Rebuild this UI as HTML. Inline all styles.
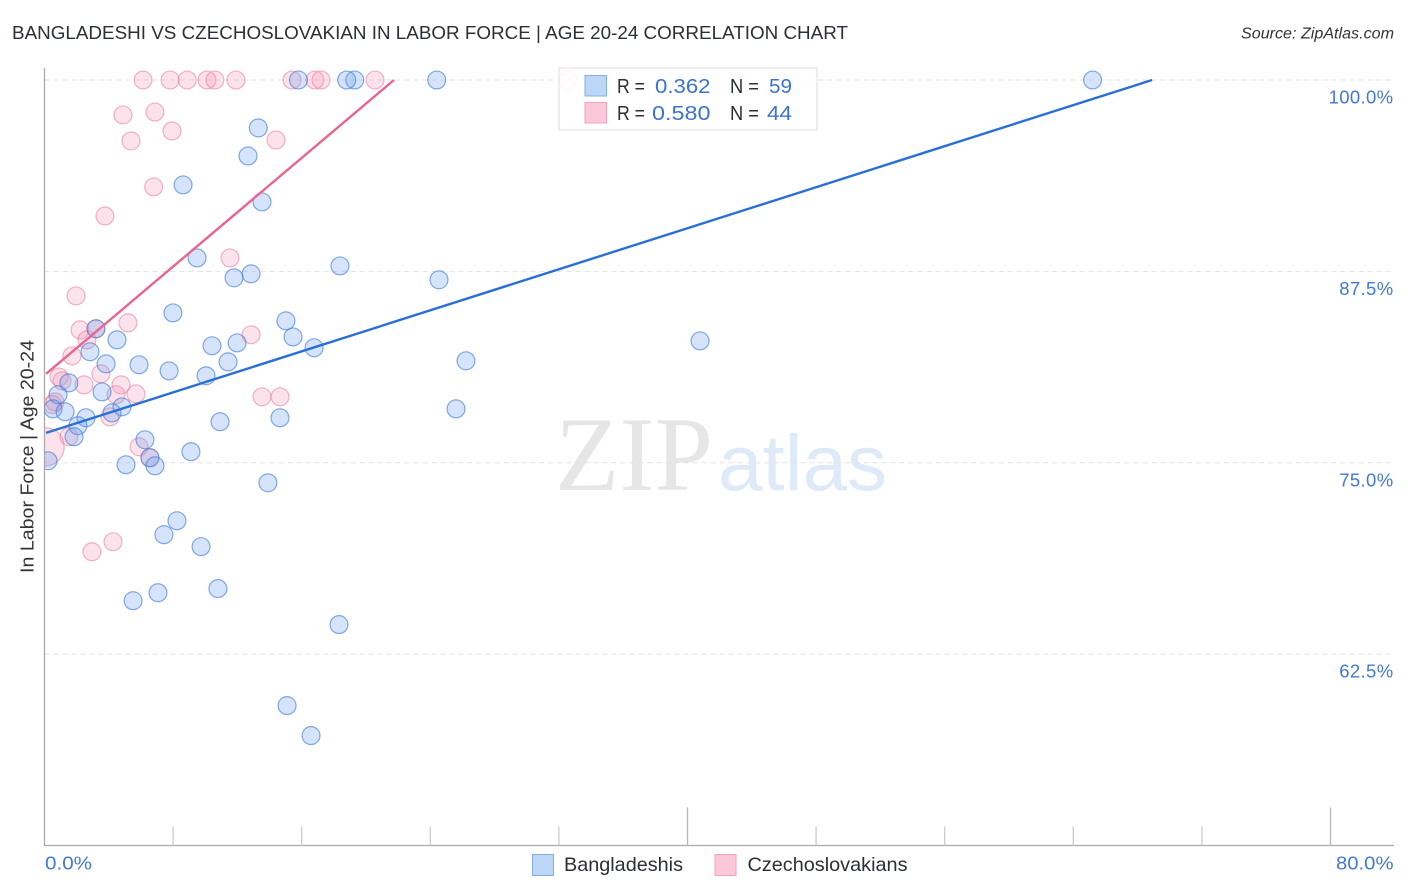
<!DOCTYPE html>
<html lang="en">
<head>
<meta charset="utf-8">
<title>Bangladeshi vs Czechoslovakian in Labor Force | Age 20-24 Correlation Chart</title>
<style>
html,body{margin:0;padding:0;background:#fff;}
svg{display:block;font-family:"Liberation Sans",sans-serif;}
</style>
</head>
<body>
<svg id="chart" xmlns="http://www.w3.org/2000/svg" width="1406" height="892" viewBox="0 0 1406 892">
  <defs>
    <clipPath id="plot-clip"><rect x="44.5" y="60" width="1350" height="786"/></clipPath>
  </defs>
  <rect x="0" y="0" width="1406" height="892" fill="#fff"/>
  <text x="12" y="39" font-size="18.5" fill="#2b2f36" textLength="836" lengthAdjust="spacingAndGlyphs">BANGLADESHI VS CZECHOSLOVAKIAN IN LABOR FORCE | AGE 20-24 CORRELATION CHART</text>
  <text x="1394" y="38.5" font-size="15.5" font-style="italic" fill="#333" text-anchor="end" textLength="153" lengthAdjust="spacingAndGlyphs">Source: ZipAtlas.com</text>

  <g>
    <text x="555" y="490" font-family="'Liberation Serif',serif" font-size="106" fill="#e6e6e6" textLength="158" lengthAdjust="spacingAndGlyphs">ZIP</text>
    <text x="718" y="490" font-size="79" fill="#dfeaf9" textLength="169" lengthAdjust="spacingAndGlyphs">atlas</text>
  </g>

  <g id="grid"></g>
  <g id="axes"></g>
  <g id="points" clip-path="url(#plot-clip)"></g>
  <g id="trends" clip-path="url(#plot-clip)"></g>

  <text transform="translate(33.5,456.5) rotate(-90)" font-size="18.5" fill="#333" text-anchor="middle" textLength="233" lengthAdjust="spacingAndGlyphs">In Labor Force | Age 20-24</text>

  <g>
    <rect x="559" y="68" width="258" height="62" fill="#fff" fill-opacity="0.88" stroke="#dcdcdc" stroke-width="1"/>
    <rect x="585" y="75.5" width="21.5" height="20.5" fill="#bcd6f8" stroke="#86aee3" stroke-width="1"/>
    <rect x="585" y="102.5" width="21.5" height="20.5" fill="#fcc8d9" stroke="#efa3bb" stroke-width="1"/>
    <g font-size="20">
      <text x="617" y="93" fill="#2b2f36" textLength="28" lengthAdjust="spacingAndGlyphs">R =</text>
      <text x="655" y="93" fill="#3b73cf" textLength="55.5" lengthAdjust="spacingAndGlyphs">0.362</text>
      <text x="730" y="93" fill="#2b2f36" textLength="29" lengthAdjust="spacingAndGlyphs">N =</text>
      <text x="769" y="93" fill="#3b73cf" textLength="23" lengthAdjust="spacingAndGlyphs">59</text>
      <text x="617" y="120" fill="#2b2f36" textLength="28" lengthAdjust="spacingAndGlyphs">R =</text>
      <text x="652" y="120" fill="#3b73cf" textLength="58.5" lengthAdjust="spacingAndGlyphs">0.580</text>
      <text x="730" y="120" fill="#2b2f36" textLength="29" lengthAdjust="spacingAndGlyphs">N =</text>
      <text x="767" y="120" fill="#3b73cf" textLength="25" lengthAdjust="spacingAndGlyphs">44</text>
    </g>
  </g>

  <g>
    <g>
      <rect x="532.5" y="854.5" width="21" height="21" fill="#bcd6f8" stroke="#86aee3" stroke-width="1"/>
      <text x="564" y="871" font-size="19.5" fill="#2b2f36" textLength="119" lengthAdjust="spacingAndGlyphs">Bangladeshis</text>
    </g>
    <g>
      <rect x="715" y="854.5" width="21" height="21" fill="#fcc8d9" stroke="#efa3bb" stroke-width="1"/>
      <text x="747.5" y="871" font-size="19.5" fill="#2b2f36" textLength="160" lengthAdjust="spacingAndGlyphs">Czechoslovakians</text>
    </g>
  </g>
</svg>
<script>
// ---- chart data ----
const yTickValues = [100, 87.5, 75, 62.5];
const yTickLabels = ["100.0%", "87.5%", "75.0%", "62.5%"];
const xTickValues = [8, 16, 24, 32, 40, 48, 56, 64, 72, 80];
const xMajorTicks = [40, 80];
const xEndLabels = ["0.0%", "80.0%"];

const bangladeshiX = [65.2,24.4,19.3,18.8,15.8,13.3,12.66,8.62,13.53,9.49,18.38,12.85,11.79,24.54,7.99,15.02,3.2,15.46,4.51,10.42,11.98,16.77,40.78,2.83,3.83,5.88,11.42,26.22,7.75,10.05,1.52,0.84,3.58,0.53,1.28,4.82,4.2,25.6,14.65,10.92,2.58,2.08,1.84,6.25,9.11,6.56,5.07,6.87,0.22,13.9,8.24,7.43,9.74,10.79,7.06,5.51,18.32,15.09,16.58];
const bangladeshiY = [100,100,100,100,100,96.87,95.04,93.15,92.04,88.38,87.86,87.34,87.08,86.95,84.79,84.27,83.75,83.22,83.03,82.64,82.83,82.51,82.96,82.25,81.46,81.4,81.59,81.66,81.0,80.68,80.22,79.44,79.63,78.52,78.33,78.65,78.26,78.52,77.94,77.68,77.94,77.42,76.7,76.5,75.72,75.33,74.87,74.8,75.13,73.69,71.21,70.3,69.52,66.78,66.51,65.99,64.43,59.14,57.18];

const czechX = [6.13,7.81,8.88,10.11,10.6,11.91,15.4,16.82,17.2,20.56,32.56,4.88,6.87,7.93,5.38,14.4,6.79,3.76,11.54,1.96,5.19,2.21,12.85,2.64,3.2,1.71,3.51,0.9,1.09,2.46,4.76,4.45,5.69,13.53,14.65,0.65,0.5,4.07,1.52,5.88,6.56,0.03,4.26,2.95];
const czechY = [100,100,100,100,100,100,100,100,100,100,100,97.72,97.91,96.67,96.02,96.08,93.02,91.12,88.38,85.9,84.14,83.68,83.36,83.03,83.75,81.98,80.81,80.6,80.35,80.09,80.09,79.44,79.5,79.31,79.31,78.98,78.8,78.0,76.7,76.04,75.33,76.04,69.84,69.19];
const czechWeight = [1,1,1,1,1,1,1,1,1,1,1,1,1,1,1,1,1,1,1,1,1,1,1,1,1,1,1,1,1,1,1,1,1,1,1,1,1,1,1,1,1,4.6,1,1];

const bangladeshiTrendX = [0.1, 68.9];
const bangladeshiTrendY = [76.95, 100];
const czechTrendX = [0.1, 21.74];
const czechTrendY = [80.81, 100];

// ---- axis functions ----
const NS = "http://www.w3.org/2000/svg";
function xScale(v){ return 44.5 + v * (1330.5 - 44.5) / 80; }
function yScale(v){ return 80 + (100 - v) * (845.5 - 80) / 50; }
function rScale(w){ return 8.95 * Math.sqrt(w); }
function make(tag, attrs, parent){
  const el = document.createElementNS(NS, tag);
  for (const k in attrs) el.setAttribute(k, attrs[k]);
  parent.appendChild(el);
  return el;
}

const gridG = document.getElementById("grid");
const axesG = document.getElementById("axes");
const pointsG = document.getElementById("points");
const trendsG = document.getElementById("trends");

// gridlines and y tick labels
yTickValues.forEach(function(v, i){
  const line = make("line", {x1:44.5, x2:1394, y1:yScale(v), y2:yScale(v), stroke:"#e2e2e2", "stroke-width":1, "stroke-dasharray":"5 4"}, gridG);
  
  
  const label = make("text", {x:1393.5, y:yScale(v) + 23.5, "font-size":18.5, fill:"#4279d4", "text-anchor":"end", "letter-spacing":"0.35"}, axesG);
  label.textContent = yTickLabels[i];
  
  
});

// axis lines
const yAxisLine = make("line", {x1:44.5, x2:44.5, y1:68, y2:846, stroke:"#aaaaaa", "stroke-width":1.3}, axesG);


const xAxisLine = make("line", {x1:44, x2:1394, y1:845.5, y2:845.5, stroke:"#aaaaaa", "stroke-width":1.3}, axesG);



// x ticks
xTickValues.forEach(function(v){
  const major = xMajorTicks.indexOf(v) >= 0;
  const tick = make("line", {x1:xScale(v), x2:xScale(v), y1:major ? 807.5 : 826.5, y2:845.5, stroke:major ? "#b8b8b8" : "#cccccc", "stroke-width":1.3}, axesG);
  
  
});

// x end labels
const xStart = make("text", {x:45, y:869.5, "font-size":18.5, fill:"#4279d4", textLength:47, lengthAdjust:"spacingAndGlyphs"}, axesG);
xStart.textContent = xEndLabels[0];


const xEnd = make("text", {x:1336, y:869.5, "font-size":18.5, fill:"#4279d4", textLength:57.5, lengthAdjust:"spacingAndGlyphs"}, axesG);
xEnd.textContent = xEndLabels[1];



// points
czechX.forEach(function(x, i){
  const c = make("circle", {cx:xScale(x), cy:yScale(czechY[i]), r:rScale(czechWeight[i]), fill:"rgba(245,145,178,0.26)", stroke:"rgba(235,125,160,0.58)", "stroke-width":1.2}, pointsG);
  
  
});
bangladeshiX.forEach(function(x, i){
  const c = make("circle", {cx:xScale(x), cy:yScale(bangladeshiY[i]), r:rScale(1), fill:"rgba(100,155,235,0.27)", stroke:"rgba(60,120,215,0.62)", "stroke-width":1.2}, pointsG);
  
  
});

// trend lines
const blueTrend = make("line", {x1:xScale(bangladeshiTrendX[0]), y1:yScale(bangladeshiTrendY[0]), x2:xScale(bangladeshiTrendX[1]), y2:yScale(bangladeshiTrendY[1]), stroke:"#2a6fd6", "stroke-width":2.4}, trendsG);


const pinkTrend = make("line", {x1:xScale(czechTrendX[0]), y1:yScale(czechTrendY[0]), x2:xScale(czechTrendX[1]), y2:yScale(czechTrendY[1]), stroke:"#e8658f", "stroke-width":2.4}, trendsG);


</script>
</body>
</html>
